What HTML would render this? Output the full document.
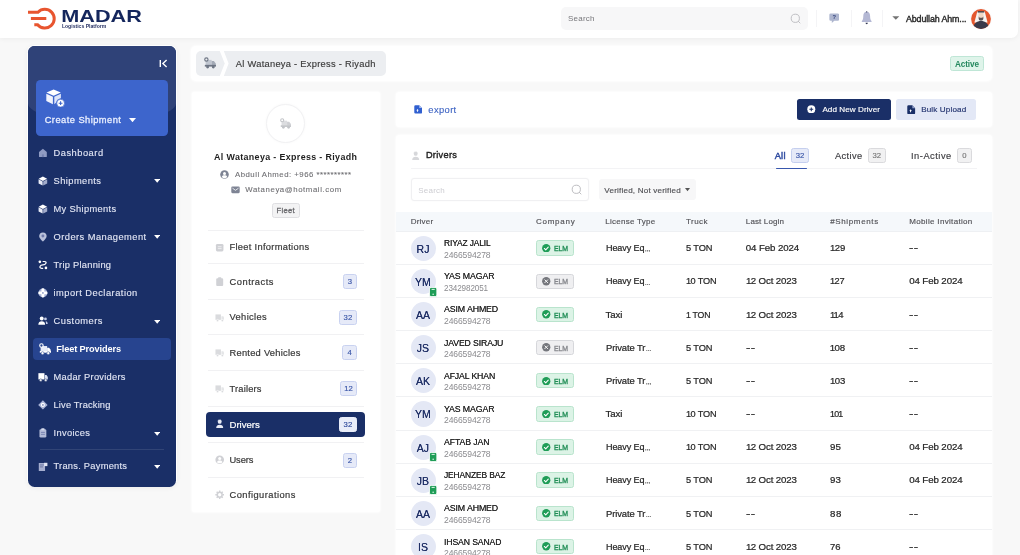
<!DOCTYPE html>
<html><head><meta charset="utf-8"><title>Madar - Fleet Providers</title>
<style>
html,body{margin:0;padding:0;}
body{width:1020px;height:555px;overflow:hidden;background:#f8f8f8;font-family:"Liberation Sans",sans-serif;position:relative;}
#root{position:absolute;left:0;top:0;width:1020px;height:555px;overflow:hidden;will-change:transform;}
.b{position:absolute;display:block;}
.t{position:absolute;white-space:nowrap;display:block;}
</style></head><body>
<div id="root">
<div class="b" style="left:0.00px;top:0.00px;width:1018.00px;height:37.60px;background:#fff;border-radius:0px;border-bottom-right-radius:7px;box-shadow:0 1px 5px rgba(0,0,0,0.05);"></div>
<svg class="b" style="left:26px;top:5px" width="120" height="28" viewBox="0 0 120 28">
<g fill="none" stroke="#e8552f" stroke-width="3" stroke-linecap="butt" stroke-linejoin="miter">
<path d="M2 7.2 H12 A9.4 9.4 0 1 1 11.6 19.7 H8.3"/>
<path d="M4.9 13.5 H20.3"/>
</g>
<text x="35.2" y="17" font-family="Liberation Sans, sans-serif" font-weight="700" font-size="16.4" fill="#14265c" textLength="80.7" lengthAdjust="spacingAndGlyphs">MADAR</text>
<text x="35.9" y="23" font-family="Liberation Sans, sans-serif" font-weight="700" font-size="4.6" fill="#2a3566" textLength="44.5" lengthAdjust="spacingAndGlyphs">Logistics Platform</text>
</svg>
<div class="b" style="left:560.50px;top:7.30px;width:247.50px;height:22.30px;background:#f7f7f8;border-radius:5px;"></div>
<span class="t" style="left:568.00px;top:12.90px;font-size:8.0px;line-height:11.2px;font-weight:400;color:#77777b;letter-spacing:0.230px;">Search</span>
<svg class="b" style="left:789px;top:12px" width="14" height="14" viewBox="0 0 14 14"><circle cx="6.3" cy="6.3" r="4.1" fill="none" stroke="#b9b9bd" stroke-width="0.9"/><path d="M9.4 9.4 L11 11" stroke="#b9b9bd" stroke-width="0.9" stroke-linecap="round"/></svg>
<div class="b" style="left:815.50px;top:10.00px;width:1.00px;height:17.00px;background:#f4f4f6;border-radius:0px;"></div>
<div class="b" style="left:851.30px;top:10.00px;width:1.00px;height:17.00px;background:#f4f4f6;border-radius:0px;"></div>
<div class="b" style="left:882.40px;top:10.00px;width:1.00px;height:17.00px;background:#f4f4f6;border-radius:0px;"></div>
<svg class="b" style="left:828.600px;top:13.200px" width="10.600" height="11" viewBox="0 0 12 13" preserveAspectRatio="none"><path d="M2 0.6 H10 A1.6 1.6 0 0 1 11.6 2.2 V7.6 A1.6 1.6 0 0 1 10 9.2 H6 L3.2 11.8 V9.2 H2 A1.6 1.6 0 0 1 0.4 7.6 V2.2 A1.6 1.6 0 0 1 2 0.6Z" fill="#aeb6cf"/><text x="6" y="7.6" font-family="Liberation Sans, sans-serif" font-size="6.5" font-weight="700" fill="#2a3a75" text-anchor="middle">?</text></svg>
<svg class="b" style="left:861.300px;top:11.300px" width="11.400" height="14.600" viewBox="0 0 13 15" preserveAspectRatio="none"><path d="M6.5 0.8 C9.3 0.8 10.4 3 10.4 5.4 C10.4 8 11 9.3 12 10.4 C12.3 10.8 12 11.4 11.5 11.4 H1.5 C1 11.4 0.7 10.8 1 10.4 C2 9.3 2.6 8 2.6 5.4 C2.6 3 3.7 0.8 6.5 0.8Z" fill="#b4b8d4"/><path d="M5.200 12.200 H7.800 A1.300 1.300 0 0 1 5.200 12.200Z" fill="#2e3350"/><rect x="5.700" y="0.300" width="1.600" height="1.200" rx="0.500" fill="#4a4f6e"/></svg>
<svg class="b" style="left:892.4px;top:16.300px" width="7.600" height="4" viewBox="0 0 7.600 4"><path d="M0.300 0.300 H7.300 L3.800 3.800Z" fill="#747474"/></svg>
<span class="t" style="left:905.70px;top:12.80px;font-size:9px;line-height:12.6px;font-weight:400;color:#2a2a2a;letter-spacing:-0.120px;transform:scaleX(0.9860);transform-origin:0 50%;-webkit-text-stroke:0.4px #2a2a2a;">Abdullah Ahm...</span>
<svg class="b" style="left:969.8px;top:8.1px" width="22" height="22" viewBox="-1 -1 22 22">
<defs><clipPath id="av"><circle cx="10" cy="10" r="9.9"/></clipPath></defs>
<circle cx="10" cy="10" r="10.9" fill="#fbfbfc"/>
<circle cx="10" cy="10" r="9.9" fill="#e4572e"/>
<g clip-path="url(#av)">
<path d="M6.300 2.600 H13.700 L16.600 13.500 H3.400Z" fill="#f6f3f1"/>
<path d="M1.500 20 C2.500 14.500 6 12 10 12 C14 12 17.500 14.500 18.500 20Z" fill="#3b3a4a"/>
<rect x="7.500" y="4" width="5" height="6" fill="#f1d6c3"/>
<path d="M7.700 7.600 L8.700 8.800 H11.300 L12.300 7.600 V9.800 C12.300 12.300 7.700 12.300 7.700 9.800Z" fill="#5a5356"/>
<rect x="6.700" y="2.300" width="6.600" height="1.300" rx="0.400" fill="#2b2a31"/>
</g></svg>
<div class="b" style="left:27.20px;top:45.20px;width:149.40px;height:442.20px;background:rgba(255,255,255,0.9);border-radius:7.5px;box-shadow:0 1px 5px rgba(0,0,0,0.05);"></div>
<div class="b" style="left:28.00px;top:46.00px;width:148.00px;height:440.60px;background:#1a2f67;border-radius:6.5px;overflow:hidden;"><div class="b" style="left:0.00px;top:-20.00px;width:148.00px;height:95.60px;background:#2f4278;border-radius:0px;border-bottom-left-radius:74px 18.5px;border-bottom-right-radius:74px 18.5px;"></div></div>
<svg class="b" style="left:159px;top:58.8px" width="9" height="9" viewBox="0 0 9 9"><path d="M1.300 0.900 V8.100" stroke="#fff" stroke-width="1.400" fill="none"/><path d="M7.600 1.100 L3.900 4.500 L7.600 7.900" fill="none" stroke="#fff" stroke-width="1.400" stroke-linejoin="miter"/></svg>
<div class="b" style="left:35.60px;top:80.00px;width:132.70px;height:56.00px;background:#3d65cc;border-radius:4.5px;"></div>
<svg class="b" style="left:45.5px;top:88.5px" width="20" height="19" viewBox="0 0 20 19">
<path d="M7.6 0.500 L14.800 3.600 L7.6 6.800 L0.500 3.600Z" fill="#fff"/>
<path d="M0.300 4.700 L6.900 7.700 V15.2 L0.300 12.100Z" fill="#f1f4fd"/>
<path d="M8.3 7.700 L14.900 4.700 V9.2 C12.500 9.400 10.600 11 10.200 13.500 L8.300 15.200Z" fill="#dde5fa"/>
<circle cx="14.600" cy="14.200" r="3.900" fill="#fff" stroke="#3d65cc" stroke-width="0.700"/>
<path d="M14.600 12.300 V16.100 M12.700 14.200 H16.500" stroke="#3d65cc" stroke-width="1.100"/>
</svg>
<span class="t" style="left:44.70px;top:113.79px;font-size:9.3px;line-height:13.02px;font-weight:400;color:#e9efff;letter-spacing:0.458px;-webkit-text-stroke:0.3px #e9efff;">Create Shipment</span>
<svg class="b" style="left:128.6px;top:117.6px" width="7" height="4.5" viewBox="0 0 7 4.5"><path d="M0 0 H7 L3.5 4.200Z" fill="#fff"/></svg>
<div class="b" style="left:33.30px;top:337.80px;width:137.30px;height:22.40px;background:#27448f;border-radius:4px;"></div>
<div class="b" style="left:40.00px;top:448.80px;width:124.00px;height:1.00px;background:rgba(255,255,255,0.10);border-radius:0px;"></div>
<svg class="b" style="left:38.40px;top:148.00px" width="9.8" height="9.8" viewBox="0 0 10 10"><path d="M1 4 L5 0.700 L9 4 V8.600 A0.700 0.700 0 0 1 8.300 9.300 H1.700 A0.700 0.700 0 0 1 1 8.600Z" fill="#8f9bc2"/><path d="M4 9.300 V6.500 H6 V9.300Z" fill="#7482b0"/></svg>
<span class="t" style="left:53.50px;top:146.84px;font-size:9.3px;line-height:13.02px;font-weight:400;color:#e3e7f5;letter-spacing:0.513px;-webkit-text-stroke:0.12px #e3e7f5;">Dashboard</span>
<svg class="b" style="left:38.40px;top:176.10px" width="9.8" height="9.8" viewBox="0 0 10 10"><path d="M5 0.400 L9.300 2.700 L5 5 L0.700 2.700Z" fill="#fff"/><path d="M0.600 3.300 L4.700 5.500 V9.800 L0.600 7.600Z" fill="#e9ecf7"/><path d="M5.300 5.500 L9.400 3.300 V7.600 L5.300 9.800Z" fill="#a2abca"/></svg>
<span class="t" style="left:53.50px;top:174.94px;font-size:9.3px;line-height:13.02px;font-weight:400;color:#e3e7f5;letter-spacing:0.445px;-webkit-text-stroke:0.12px #e3e7f5;">Shipments</span>
<svg class="b" style="left:153.60px;top:179.40px" width="6.4" height="4" viewBox="0 0 7 4.5"><path d="M0 0 H7 L3.5 4.200Z" fill="#fff"/></svg>
<svg class="b" style="left:38.40px;top:204.10px" width="9.8" height="9.8" viewBox="0 0 10 10"><path d="M5 0.400 L9.300 2.700 L5 5 L0.700 2.700Z" fill="#fff"/><path d="M0.600 3.300 L4.700 5.500 V9.800 L0.600 7.600Z" fill="#e9ecf7"/><path d="M5.300 5.500 L9.400 3.300 V7.600 L5.300 9.800Z" fill="#a2abca"/></svg>
<span class="t" style="left:53.50px;top:202.94px;font-size:9.3px;line-height:13.02px;font-weight:400;color:#e3e7f5;letter-spacing:0.334px;-webkit-text-stroke:0.12px #e3e7f5;">My Shipments</span>
<svg class="b" style="left:38.40px;top:232.10px" width="9.8" height="9.8" viewBox="0 0 10 10"><path d="M5 0.400 C7.400 0.400 8.800 2.100 8.800 4.100 C8.800 6.600 5 9.800 5 9.800 C5 9.800 1.200 6.600 1.200 4.100 C1.200 2.100 2.600 0.400 5 0.400Z" fill="#b9c1db"/><circle cx="5" cy="4" r="1.500" fill="#6f7bab"/></svg>
<span class="t" style="left:53.50px;top:230.94px;font-size:9.3px;line-height:13.02px;font-weight:400;color:#e3e7f5;letter-spacing:0.463px;-webkit-text-stroke:0.12px #e3e7f5;">Orders Management</span>
<svg class="b" style="left:153.60px;top:235.40px" width="6.4" height="4" viewBox="0 0 7 4.5"><path d="M0 0 H7 L3.5 4.200Z" fill="#fff"/></svg>
<svg class="b" style="left:38.40px;top:260.20px" width="9.8" height="9.8" viewBox="0 0 10 10"><circle cx="1.900" cy="1.900" r="1.350" fill="#fff"/><circle cx="8.100" cy="8.100" r="1.350" fill="#fff"/><path d="M5.200 1.500 H6.600 C9.800 1.700 8 5 5 5 C2 5 0.600 8.300 3.600 8.500 H4.800" stroke="#fff" stroke-width="1.200" fill="none" stroke-linecap="round"/></svg>
<span class="t" style="left:53.50px;top:259.04px;font-size:9.3px;line-height:13.02px;font-weight:400;color:#e3e7f5;letter-spacing:0.254px;-webkit-text-stroke:0.12px #e3e7f5;">Trip Planning</span>
<svg class="b" style="left:38.40px;top:288.20px" width="9.8" height="9.8" viewBox="0 0 10 10"><circle cx="5" cy="5" r="4.600" fill="#a9b3d6"/><rect x="3.500" y="0.300" width="3" height="9.400" rx="1.500" fill="#fff"/><rect x="0.300" y="3.500" width="9.400" height="3" rx="1.500" fill="#fff"/><circle cx="5" cy="5" r="0.900" fill="#8f9bc6"/></svg>
<span class="t" style="left:53.50px;top:287.04px;font-size:9.3px;line-height:13.02px;font-weight:400;color:#e3e7f5;letter-spacing:0.490px;-webkit-text-stroke:0.12px #e3e7f5;">import Declaration</span>
<svg class="b" style="left:38.40px;top:316.30px" width="9.8" height="9.8" viewBox="0 0 10 10"><circle cx="3.800" cy="2.600" r="2" fill="#fff"/><path d="M0.300 9 C0.300 6.400 1.800 5.300 3.800 5.300 C5.800 5.300 7.300 6.400 7.300 9Z" fill="#fff"/><circle cx="7.600" cy="3" r="1.400" fill="#c3cbe6"/><path d="M7.900 5.300 C9.200 5.500 9.900 6.500 9.900 8.200 H8.200Z" fill="#c3cbe6"/></svg>
<span class="t" style="left:53.50px;top:315.14px;font-size:9.3px;line-height:13.02px;font-weight:400;color:#e3e7f5;letter-spacing:0.505px;-webkit-text-stroke:0.12px #e3e7f5;">Customers</span>
<svg class="b" style="left:153.60px;top:319.60px" width="6.4" height="4" viewBox="0 0 7 4.5"><path d="M0 0 H7 L3.5 4.200Z" fill="#fff"/></svg>
<svg class="b" style="left:38.80px;top:342.80px" width="12.2" height="12.2" viewBox="0 0 12 12"><path d="M1.600 3 H8 V8.600 H1.600Z" fill="#e8ecf8"/><path d="M8 4.600 H9.900 L11.500 6.600 V8.600 H8Z" fill="#fff"/><path d="M0.800 7.800 H11.800 V9.600 H0.800Z" fill="#fff"/><circle cx="3.500" cy="10" r="1.450" fill="#fff" stroke="#27448f" stroke-width="0.500"/><circle cx="9.100" cy="10" r="1.450" fill="#fff" stroke="#27448f" stroke-width="0.500"/><circle cx="2.400" cy="2.500" r="1.700" fill="#27448f" stroke="#fff" stroke-width="1.100"/></svg>
<span class="t" style="left:56.20px;top:343.46px;font-size:9.2px;line-height:12.88px;font-weight:700;color:#fff;letter-spacing:-0.105px;">Fleet Providers</span>
<svg class="b" style="left:38.40px;top:372.20px" width="9.8" height="9.8" viewBox="0 0 10 10"><path d="M0.400 1.200 H6.600 V7.600 H0.400Z" fill="#fff"/><path d="M7 3 H8.700 L10 5 V7.600 H7Z" fill="#dbe1f3"/><circle cx="2.800" cy="8.300" r="1.300" fill="#fff" stroke="#1a2f67" stroke-width="0.500"/><circle cx="7.900" cy="8.300" r="1.300" fill="#fff" stroke="#1a2f67" stroke-width="0.500"/></svg>
<span class="t" style="left:53.50px;top:371.04px;font-size:9.3px;line-height:13.02px;font-weight:400;color:#e3e7f5;letter-spacing:0.269px;-webkit-text-stroke:0.12px #e3e7f5;">Madar Providers</span>
<svg class="b" style="left:38.40px;top:400.30px" width="9.8" height="9.8" viewBox="0 0 10 10"><path d="M5 0.200 L9.800 5 L5 9.800 L0.200 5Z" fill="#a9b3d6"/><circle cx="5" cy="5" r="2.100" fill="#fff"/><circle cx="5" cy="5" r="0.900" fill="#7e8bba"/></svg>
<span class="t" style="left:53.50px;top:399.14px;font-size:9.3px;line-height:13.02px;font-weight:400;color:#e3e7f5;letter-spacing:0.176px;-webkit-text-stroke:0.12px #e3e7f5;">Live Tracking</span>
<svg class="b" style="left:38.40px;top:428.40px" width="9.8" height="9.8" viewBox="0 0 10 10"><rect x="1.500" y="1.200" width="7" height="8.500" rx="1.400" fill="#b3bbd8"/><rect x="3.300" y="0.300" width="3.400" height="2" rx="0.600" fill="#d5daeb"/><path d="M3 4.500 H7 M3 6.500 H7" stroke="#6d79ab" stroke-width="0.800"/></svg>
<span class="t" style="left:53.50px;top:427.24px;font-size:9.3px;line-height:13.02px;font-weight:400;color:#e3e7f5;letter-spacing:0.326px;-webkit-text-stroke:0.12px #e3e7f5;">Invoices</span>
<svg class="b" style="left:153.60px;top:431.70px" width="6.4" height="4" viewBox="0 0 7 4.5"><path d="M0 0 H7 L3.5 4.200Z" fill="#fff"/></svg>
<svg class="b" style="left:38.40px;top:461.50px" width="9.8" height="9.8" viewBox="0 0 10 10"><path d="M0.800 1 H7.200 V9.200 H0.800Z" fill="#a6afd0"/><path d="M2 3 H6 M2 5 H5" stroke="#5c6899" stroke-width="0.800"/><path d="M6.200 0.800 H9.600 V4.200 H6.200Z" fill="#dfe3f2"/></svg>
<span class="t" style="left:53.50px;top:460.34px;font-size:9.3px;line-height:13.02px;font-weight:400;color:#e3e7f5;letter-spacing:0.254px;-webkit-text-stroke:0.12px #e3e7f5;">Trans. Payments</span>
<svg class="b" style="left:153.60px;top:464.80px" width="6.4" height="4" viewBox="0 0 7 4.5"><path d="M0 0 H7 L3.5 4.200Z" fill="#fff"/></svg>
<div class="b" style="left:190.50px;top:45.80px;width:801.50px;height:35.20px;background:#fff;border-radius:5px;box-shadow:0 0 2px 1px rgba(255,255,255,0.7),0 0 8px rgba(0,0,0,0.012);"></div>
<svg class="b" style="left:196px;top:51px" width="192" height="25" viewBox="0 0 192 25">
<path d="M5 0 H23.800 L28.700 12.500 L23.800 25 H5 A5 5 0 0 1 0 20 V5 A5 5 0 0 1 5 0Z" fill="#eceef1"/>
<path d="M27.800 0 H185 A5 5 0 0 1 190 5 V20 A5 5 0 0 1 185 25 H27.800 L32.600 12.500Z" fill="#eceef1"/>
</svg>
<svg class="b" style="left:203.80px;top:57.10px" width="12.4" height="12.4" viewBox="0 0 12 12">
<path d="M1.600 2.800 H7.400 V8 H1.600Z" fill="#c0c6d0"/><path d="M7.400 3.800 H9.600 L11.400 6.200 V8 H7.400Z" fill="#a4abb7"/>
<path d="M0.800 7.600 H11.600 V9.300 H0.800Z" fill="#6e7684"/>
<circle cx="3.500" cy="9.700" r="1.400" fill="#6e7684"/><circle cx="9" cy="9.700" r="1.400" fill="#6e7684"/>
<circle cx="2.300" cy="2.400" r="1.600" fill="#eceef1" stroke="#6e7684" stroke-width="1.100"/></svg>
<span class="t" style="left:235.80px;top:58.04px;font-size:9.3px;line-height:13.02px;font-weight:400;color:#3a3a3a;letter-spacing:0.281px;-webkit-text-stroke:0.15px #3a3a3a;">Al Wataneya - Express - Riyadh</span>
<div class="b" style="left:950.30px;top:56.20px;width:33.80px;height:14.60px;background:#dff4ea;border-radius:2.5px;box-sizing:border-box;border:1px solid #bfe6d6;"></div>
<span class="t" style="left:955.30px;top:58.14px;font-size:8.8px;line-height:12.32px;font-weight:700;color:#24885e;letter-spacing:-0.120px;transform:scaleX(0.9297);transform-origin:0 50%;">Active</span>
<div class="b" style="left:192.00px;top:92.00px;width:188.00px;height:420.40px;background:#fff;border-radius:2px;box-shadow:0 0 2px 1px rgba(255,255,255,0.7),0 0 8px rgba(0,0,0,0.012);"></div>
<div class="b" style="left:265.90px;top:104.40px;width:39.00px;height:39.00px;background:#fff;border-radius:20px;box-sizing:border-box;border:1px solid #f1f1f3;box-shadow:0 0 3px rgba(0,0,0,0.035);"></div>
<svg class="b" style="left:279.65px;top:117.55px" width="11.5" height="11.5" viewBox="0 0 12 12">
<path d="M1.600 2.800 H7.400 V8 H1.600Z" fill="#dcdde0"/><path d="M7.400 3.800 H9.600 L11.400 6.200 V8 H7.400Z" fill="#cfd0d4"/>
<path d="M0.800 7.600 H11.600 V9.300 H0.800Z" fill="#c2c4c8"/>
<circle cx="3.500" cy="9.700" r="1.400" fill="#c2c4c8"/><circle cx="9" cy="9.700" r="1.400" fill="#c2c4c8"/>
<circle cx="2.300" cy="2.400" r="1.600" fill="#fff" stroke="#c2c4c8" stroke-width="1.100"/></svg>
<span class="t" style="left:214.10px;top:151.17px;font-size:8.9px;line-height:12.46px;font-weight:700;color:#1e1e1e;letter-spacing:0.361px;">Al Wataneya - Express - Riyadh</span>
<svg class="b" style="left:220px;top:169.9px" width="9" height="9" viewBox="0 0 9 9"><circle cx="4.500" cy="4.500" r="4.300" fill="#7e8494"/><circle cx="4.500" cy="3.400" r="1.500" fill="#fff"/><path d="M1.800 7 C2.300 5.600 3.300 5.300 4.500 5.300 C5.700 5.300 6.700 5.600 7.200 7 C6.300 7.900 5.400 8.200 4.500 8.200 C3.600 8.200 2.700 7.900 1.800 7Z" fill="#fff"/></svg>
<span class="t" style="left:235.00px;top:169.74px;font-size:7.8px;line-height:10.92px;font-weight:400;color:#6f6f73;letter-spacing:0.487px;-webkit-text-stroke:0.1px #6f6f73;">Abdull Ahmed: +966 **********</span>
<svg class="b" style="left:230.500px;top:185.900px" width="9" height="8" viewBox="0 0 9 8"><rect x="0.300" y="0.600" width="8.400" height="6.600" rx="1.100" fill="#7e8494"/><path d="M1.500 2.200 L4.500 4.300 L7.500 2.200" stroke="#fff" stroke-width="0.800" fill="none"/></svg>
<span class="t" style="left:245.30px;top:185.44px;font-size:7.8px;line-height:10.92px;font-weight:400;color:#6f6f73;letter-spacing:0.584px;-webkit-text-stroke:0.1px #6f6f73;">Wataneya@hotmail.com</span>
<div class="b" style="left:271.50px;top:202.70px;width:28.20px;height:15.20px;background:#f3f3f4;border-radius:2.5px;box-sizing:border-box;border:1px solid #dfdfe2;"></div>
<span class="t" style="left:276.60px;top:205.58px;font-size:7.6px;line-height:10.64px;font-weight:400;color:#6a6a6e;letter-spacing:0.276px;-webkit-text-stroke:0.3px #6a6a6e;">Fleet</span>
<div class="b" style="left:207.70px;top:229.90px;width:156.20px;height:1.00px;background:#f1f1f3;border-radius:0px;"></div>
<div class="b" style="left:207.70px;top:262.60px;width:156.20px;height:1.00px;background:#f1f1f3;border-radius:0px;"></div>
<div class="b" style="left:207.70px;top:298.60px;width:156.20px;height:1.00px;background:#f1f1f3;border-radius:0px;"></div>
<div class="b" style="left:207.70px;top:334.20px;width:156.20px;height:1.00px;background:#f1f1f3;border-radius:0px;"></div>
<div class="b" style="left:207.70px;top:369.90px;width:156.20px;height:1.00px;background:#f1f1f3;border-radius:0px;"></div>
<div class="b" style="left:207.70px;top:405.70px;width:156.20px;height:1.00px;background:#f1f1f3;border-radius:0px;"></div>
<div class="b" style="left:207.70px;top:441.60px;width:156.20px;height:1.00px;background:#f1f1f3;border-radius:0px;"></div>
<div class="b" style="left:207.70px;top:477.30px;width:156.20px;height:1.00px;background:#f1f1f3;border-radius:0px;"></div>
<div class="b" style="left:206.40px;top:411.50px;width:158.30px;height:25.60px;background:#1a2f67;border-radius:4px;"></div>
<svg class="b" style="left:215.00px;top:242.50px" width="9.4" height="9.4" viewBox="0 0 10 10"><rect x="1" y="1" width="8" height="8" rx="1.500" fill="#d0d1d5"/><path d="M3 4 H7 M3 6 H7" stroke="#fff" stroke-width="0.700"/></svg>
<span class="t" style="left:229.50px;top:241.24px;font-size:9.3px;line-height:13.02px;font-weight:400;color:#383838;letter-spacing:0.304px;-webkit-text-stroke:0.2px #383838;">Fleet Informations</span>
<svg class="b" style="left:215.00px;top:276.90px" width="9.4" height="9.4" viewBox="0 0 10 10"><rect x="1.300" y="1.400" width="7.400" height="8.200" rx="1.200" fill="#d0d1d5"/><rect x="3.300" y="0.300" width="3.400" height="2" rx="0.600" fill="#d0d1d5"/></svg>
<span class="t" style="left:229.50px;top:275.64px;font-size:9.3px;line-height:13.02px;font-weight:400;color:#383838;letter-spacing:0.525px;-webkit-text-stroke:0.2px #383838;">Contracts</span>
<div class="b" style="left:342.80px;top:274.15px;width:14.10px;height:14.90px;background:#e6eaf8;border-radius:2.5px;box-sizing:border-box;border:1px solid #c9d2f0;"></div><span class="t" style="left:347.71px;top:277.01px;font-size:7.7px;line-height:10.78px;font-weight:400;color:#3a56a8;-webkit-text-stroke:0.15px #3a56a8;">3</span>
<svg class="b" style="left:215.00px;top:312.50px" width="9.4" height="9.4" viewBox="0 0 10 10"><path d="M0.500 1.500 H6.300 V7.300 H0.500Z" fill="#dadbde"/><path d="M6.800 3.400 H8.800 L10 5.200 V7.300 H6.800Z" fill="#dadbde" opacity="0.700"/><circle cx="2.700" cy="8" r="1.200" fill="#dadbde" stroke="#fff" stroke-width="0.500"/><circle cx="7.800" cy="8" r="1.200" fill="#dadbde" stroke="#fff" stroke-width="0.500"/></svg>
<span class="t" style="left:229.50px;top:311.24px;font-size:9.3px;line-height:13.02px;font-weight:400;color:#383838;letter-spacing:0.366px;-webkit-text-stroke:0.2px #383838;">Vehicles</span>
<div class="b" style="left:338.90px;top:309.75px;width:18.00px;height:14.90px;background:#e6eaf8;border-radius:2.5px;box-sizing:border-box;border:1px solid #c9d2f0;"></div><span class="t" style="left:343.62px;top:312.61px;font-size:7.7px;line-height:10.78px;font-weight:400;color:#3a56a8;-webkit-text-stroke:0.15px #3a56a8;">32</span>
<svg class="b" style="left:215.00px;top:348.20px" width="9.4" height="9.4" viewBox="0 0 10 10"><path d="M0.500 1.500 H6.300 V7.300 H0.500Z" fill="#dadbde"/><path d="M6.800 3.400 H8.800 L10 5.200 V7.300 H6.800Z" fill="#dadbde" opacity="0.700"/><circle cx="2.700" cy="8" r="1.200" fill="#dadbde" stroke="#fff" stroke-width="0.500"/><circle cx="7.800" cy="8" r="1.200" fill="#dadbde" stroke="#fff" stroke-width="0.500"/></svg>
<span class="t" style="left:229.50px;top:346.94px;font-size:9.3px;line-height:13.02px;font-weight:400;color:#383838;letter-spacing:0.263px;-webkit-text-stroke:0.2px #383838;">Rented Vehicles</span>
<div class="b" style="left:342.20px;top:345.45px;width:14.70px;height:14.90px;background:#e6eaf8;border-radius:2.5px;box-sizing:border-box;border:1px solid #c9d2f0;"></div><span class="t" style="left:347.41px;top:348.31px;font-size:7.7px;line-height:10.78px;font-weight:400;color:#3a56a8;-webkit-text-stroke:0.15px #3a56a8;">4</span>
<svg class="b" style="left:215.00px;top:383.80px" width="9.4" height="9.4" viewBox="0 0 10 10"><path d="M0.500 1.500 H6.300 V7.300 H0.500Z" fill="#dadbde"/><path d="M6.800 3.400 H8.800 L10 5.200 V7.300 H6.800Z" fill="#dadbde" opacity="0.700"/><circle cx="2.700" cy="8" r="1.200" fill="#dadbde" stroke="#fff" stroke-width="0.500"/><circle cx="7.800" cy="8" r="1.200" fill="#dadbde" stroke="#fff" stroke-width="0.500"/></svg>
<span class="t" style="left:229.50px;top:382.54px;font-size:9.3px;line-height:13.02px;font-weight:400;color:#383838;letter-spacing:0.192px;-webkit-text-stroke:0.2px #383838;">Trailers</span>
<div class="b" style="left:340.20px;top:381.05px;width:16.70px;height:14.90px;background:#e6eaf8;border-radius:2.5px;box-sizing:border-box;border:1px solid #c9d2f0;"></div><span class="t" style="left:344.27px;top:383.91px;font-size:7.7px;line-height:10.78px;font-weight:400;color:#3a56a8;-webkit-text-stroke:0.15px #3a56a8;">12</span>
<svg class="b" style="left:214.70px;top:418.90px" width="9.4" height="9.4" viewBox="0 0 10 10"><circle cx="5" cy="3.100" r="2" fill="#e9ecf6"/><path d="M1.300 9.500 C1.300 7.200 2.800 6.100 5 6.100 C7.200 6.100 8.700 7.200 8.700 9.500Z" fill="#e9ecf6"/><path d="M2.800 2.200 H7.200" stroke="#e9ecf6" stroke-width="1"/><path d="M3.600 0.700 H6.400 V2 H3.600Z" fill="#e9ecf6"/></svg>
<span class="t" style="left:229.50px;top:418.03px;font-size:9.6px;line-height:13.44px;font-weight:400;color:#fff;letter-spacing:-0.033px;-webkit-text-stroke:0.2px #fff;">Drivers</span>
<div class="b" style="left:338.90px;top:417.05px;width:18.00px;height:14.90px;background:#e9edf9;border-radius:2.5px;box-sizing:border-box;border:1px solid #e9edf9;"></div><span class="t" style="left:343.62px;top:419.91px;font-size:7.7px;line-height:10.78px;font-weight:400;color:#2f4a9c;-webkit-text-stroke:0.15px #2f4a9c;">32</span>
<svg class="b" style="left:215.00px;top:455.40px" width="9.4" height="9.4" viewBox="0 0 10 10"><circle cx="5" cy="5" r="4.600" fill="#d0d1d5"/><circle cx="5" cy="3.800" r="1.600" fill="#fff"/><path d="M2.100 7.700 C2.700 6.200 3.800 5.900 5 5.900 C6.200 5.900 7.300 6.200 7.900 7.700 C7 8.600 6 8.900 5 8.900 C4 8.900 3 8.600 2.100 7.700Z" fill="#fff"/></svg>
<span class="t" style="left:229.50px;top:454.14px;font-size:9.3px;line-height:13.02px;font-weight:400;color:#383838;letter-spacing:-0.097px;-webkit-text-stroke:0.2px #383838;">Users</span>
<div class="b" style="left:343.00px;top:452.65px;width:13.90px;height:14.90px;background:#e6eaf8;border-radius:2.5px;box-sizing:border-box;border:1px solid #c9d2f0;"></div><span class="t" style="left:347.81px;top:455.51px;font-size:7.7px;line-height:10.78px;font-weight:400;color:#3a56a8;-webkit-text-stroke:0.15px #3a56a8;">2</span>
<svg class="b" style="left:215.00px;top:489.80px" width="9.4" height="9.4" viewBox="0 0 10 10"><circle cx="5" cy="5" r="2.600" fill="none" stroke="#d0d1d5" stroke-width="1.600"/><g stroke="#d0d1d5" stroke-width="1.500"><path d="M5 0.400 V2 M5 8 V9.600 M0.400 5 H2 M8 5 H9.600 M1.750 1.750 L2.900 2.900 M7.100 7.100 L8.250 8.250 M1.750 8.250 L2.900 7.100 M7.100 2.900 L8.250 1.750"/></g></svg>
<span class="t" style="left:229.50px;top:488.54px;font-size:9.3px;line-height:13.02px;font-weight:400;color:#383838;letter-spacing:0.456px;-webkit-text-stroke:0.2px #383838;">Configurations</span>
<div class="b" style="left:396.00px;top:92.00px;width:596.00px;height:34.80px;background:#fff;border-radius:3.5px;box-shadow:0 0 2px 1px rgba(255,255,255,0.7),0 0 8px rgba(0,0,0,0.012);"></div>
<svg class="b" style="left:414px;top:105px" width="8.400" height="8.800" viewBox="0 0 9 10" preserveAspectRatio="none"><path d="M1.600 0.300 H5.600 L8.600 3.300 V8.400 A1.300 1.300 0 0 1 7.300 9.700 H1.600 A1.300 1.300 0 0 1 0.300 8.400 V1.600 A1.300 1.300 0 0 1 1.600 0.300Z" fill="#3160d0"/><path d="M5.600 0.300 V3.300 H8.600Z" fill="#a9bdf0"/><path d="M2.500 6.200 L3.800 4.600 L5.100 6.200 H4.300 V7.600 H3.300 V6.200Z" fill="#fff"/></svg>
<span class="t" style="left:428.30px;top:102.62px;font-size:9.4px;line-height:13.16px;font-weight:400;color:#3d63c3;letter-spacing:0.375px;-webkit-text-stroke:0.12px #3d63c3;">export</span>
<div class="b" style="left:796.60px;top:99.20px;width:94.20px;height:20.40px;background:#1a2f67;border-radius:2.5px;"></div>
<svg class="b" style="left:807.300px;top:104.600px" width="8.600" height="8.600" viewBox="0 0 9 9"><circle cx="4.500" cy="4.500" r="4.200" fill="#fff"/><path d="M4.500 2.500 V6.500 M2.500 4.500 H6.500" stroke="#1a2f67" stroke-width="1.100"/></svg>
<span class="t" style="left:822.40px;top:103.93px;font-size:8.1px;line-height:11.34px;font-weight:400;color:#fff;letter-spacing:0.068px;-webkit-text-stroke:0.15px #fff;">Add New Driver</span>
<div class="b" style="left:895.70px;top:99.20px;width:80.70px;height:20.40px;background:#e3e8f6;border-radius:2.5px;"></div>
<svg class="b" style="left:907px;top:104.600px" width="8.500" height="9.500" viewBox="0 0 9 10"><path d="M1.600 0.300 H5.600 L8.600 3.300 V8.400 A1.300 1.300 0 0 1 7.300 9.700 H1.600 A1.300 1.300 0 0 1 0.300 8.400 V1.600 A1.300 1.300 0 0 1 1.600 0.300Z" fill="#1a2f67"/><path d="M5.600 0.300 V3.300 H8.600Z" fill="#8d9bc8"/><path d="M2.500 6.200 L3.800 4.600 L5.100 6.200 H4.300 V7.600 H3.300 V6.200Z" fill="#fff"/></svg>
<span class="t" style="left:921.20px;top:103.93px;font-size:8.1px;line-height:11.34px;font-weight:400;color:#22336f;letter-spacing:0.132px;-webkit-text-stroke:0.15px #22336f;">Bulk Upload</span>
<div class="b" style="left:396.00px;top:135.20px;width:596.00px;height:430.00px;background:#fff;border-radius:3.5px;box-shadow:0 0 2px 1px rgba(255,255,255,0.7),0 0 8px rgba(0,0,0,0.012);"></div>
<svg class="b" style="left:410.90px;top:150.60px" width="9.4" height="9.4" viewBox="0 0 10 10"><circle cx="5" cy="3.100" r="2" fill="#d6d7da"/><path d="M1.300 9.500 C1.300 7.200 2.800 6.100 5 6.100 C7.200 6.100 8.700 7.200 8.700 9.500Z" fill="#d6d7da"/><path d="M2.800 2.200 H7.200" stroke="#d6d7da" stroke-width="1"/><path d="M3.600 0.700 H6.400 V2 H3.600Z" fill="#d6d7da"/></svg>
<span class="t" style="left:425.90px;top:149.26px;font-size:9.2px;line-height:12.88px;font-weight:400;color:#1f1f1f;letter-spacing:0.311px;-webkit-text-stroke:0.4px #1f1f1f;">Drivers</span>
<div class="b" style="left:411.00px;top:168.10px;width:566.00px;height:1.00px;background:#f3f3f5;border-radius:0px;"></div>
<span class="t" style="left:774.70px;top:149.89px;font-size:9.3px;line-height:13.02px;font-weight:400;color:#2d4aa0;letter-spacing:0.232px;-webkit-text-stroke:0.45px #2d4aa0;">All</span>
<div class="b" style="left:791.00px;top:148.10px;width:17.90px;height:14.80px;background:#e6eaf8;border-radius:2.5px;box-sizing:border-box;border:1px solid #c5cfee;"></div><span class="t" style="left:795.67px;top:150.91px;font-size:7.7px;line-height:10.78px;font-weight:400;color:#3a56a8;-webkit-text-stroke:0.15px #3a56a8;">32</span>
<div class="b" style="left:776.00px;top:167.70px;width:31.30px;height:1.80px;background:#3857ad;border-radius:1px;"></div>
<span class="t" style="left:834.90px;top:149.89px;font-size:9.3px;line-height:13.02px;font-weight:400;color:#3c3c40;letter-spacing:0.395px;-webkit-text-stroke:0.15px #3c3c40;">Active</span>
<div class="b" style="left:867.80px;top:148.10px;width:17.90px;height:14.80px;background:#f1f1f2;border-radius:2.5px;box-sizing:border-box;border:1px solid #dadadd;"></div><span class="t" style="left:872.47px;top:150.91px;font-size:7.7px;line-height:10.78px;font-weight:400;color:#777;-webkit-text-stroke:0.15px #777;">32</span>
<span class="t" style="left:911.00px;top:149.89px;font-size:9.3px;line-height:13.02px;font-weight:400;color:#3c3c40;letter-spacing:0.515px;-webkit-text-stroke:0.15px #3c3c40;">In-Active</span>
<div class="b" style="left:957.00px;top:148.10px;width:14.70px;height:14.80px;background:#f1f1f2;border-radius:2.5px;box-sizing:border-box;border:1px solid #dadadd;"></div><span class="t" style="left:962.21px;top:150.91px;font-size:7.7px;line-height:10.78px;font-weight:400;color:#777;-webkit-text-stroke:0.15px #777;">0</span>
<div class="b" style="left:410.70px;top:178.30px;width:178.30px;height:22.50px;background:#fff;border-radius:3px;box-sizing:border-box;border:1px solid #f0f0f2;box-shadow:0 0 2px rgba(0,0,0,0.03);"></div>
<span class="t" style="left:418.30px;top:185.10px;font-size:8.0px;line-height:11.2px;font-weight:400;color:#cdcdd2;letter-spacing:0.230px;">Search</span>
<svg class="b" style="left:570px;top:183px" width="14" height="14" viewBox="0 0 14 14"><circle cx="6.300" cy="6.300" r="4.100" fill="none" stroke="#b5b5ba" stroke-width="0.900"/><path d="M9.400 9.400 L11 11" stroke="#b5b5ba" stroke-width="0.900" stroke-linecap="round"/></svg>
<div class="b" style="left:599.00px;top:179.30px;width:96.50px;height:20.80px;background:#f7f7f8;border-radius:3px;"></div>
<span class="t" style="left:604.30px;top:184.63px;font-size:8.1px;line-height:11.34px;font-weight:400;color:#505055;letter-spacing:0.191px;-webkit-text-stroke:0.15px #505055;">Verified, Not verified</span>
<svg class="b" style="left:685px;top:188.300px" width="5" height="3.500" viewBox="0 0 5 3.500"><path d="M0 0 H5 L2.500 3.200Z" fill="#555"/></svg>
<div class="b" style="left:396.00px;top:212.00px;width:596.00px;height:19.50px;background:#f5f8fb;border-radius:0px;"></div>
<div class="b" style="left:396.00px;top:231.20px;width:596.00px;height:1.00px;background:#eef0f3;border-radius:0px;"></div>
<span class="t" style="left:410.70px;top:216.40px;font-size:8.0px;line-height:11.2px;font-weight:400;color:#525257;letter-spacing:0.233px;-webkit-text-stroke:0.15px #525257;">Driver</span>
<span class="t" style="left:535.90px;top:216.40px;font-size:8.0px;line-height:11.2px;font-weight:400;color:#525257;letter-spacing:0.760px;-webkit-text-stroke:0.15px #525257;">Company</span>
<span class="t" style="left:605.20px;top:216.40px;font-size:8.0px;line-height:11.2px;font-weight:400;color:#525257;letter-spacing:0.273px;-webkit-text-stroke:0.15px #525257;">License Type</span>
<span class="t" style="left:686.00px;top:216.40px;font-size:8.0px;line-height:11.2px;font-weight:400;color:#525257;letter-spacing:0.449px;-webkit-text-stroke:0.15px #525257;">Truck</span>
<span class="t" style="left:745.80px;top:216.40px;font-size:8.0px;line-height:11.2px;font-weight:400;color:#525257;letter-spacing:0.142px;-webkit-text-stroke:0.15px #525257;">Last Login</span>
<span class="t" style="left:830.20px;top:216.40px;font-size:8.0px;line-height:11.2px;font-weight:400;color:#525257;letter-spacing:0.639px;-webkit-text-stroke:0.15px #525257;">#Shipments</span>
<span class="t" style="left:909.30px;top:216.40px;font-size:8.0px;line-height:11.2px;font-weight:400;color:#525257;letter-spacing:0.324px;-webkit-text-stroke:0.15px #525257;">Mobile Invitation</span>
<div class="b" style="left:410.70px;top:235.67px;width:25.20px;height:25.20px;background:#e4e8f5;border-radius:13px;"></div>
<span class="t" style="left:416.58px;top:241.62px;font-size:10.5px;line-height:14.7px;font-weight:400;color:#1f2f66;text-shadow:0 0 0.15px #1f2f66;">RJ</span>
<span class="t" style="left:443.80px;top:237.17px;font-size:9.0px;line-height:12.6px;font-weight:400;color:#2b2b2b;letter-spacing:-0.120px;transform:scaleX(0.9292);transform-origin:0 50%;text-shadow:0 0 0.25px #2b2b2b;">RIYAZ JALIL</span>
<span class="t" style="left:443.80px;top:248.61px;font-size:8.8px;line-height:12.32px;font-weight:400;color:#8b8b8f;letter-spacing:-0.120px;transform:scaleX(0.9736);transform-origin:0 50%;">2466594278</span>
<div class="b" style="left:536.30px;top:240.37px;width:37.60px;height:15.50px;background:#dcf3e6;border-radius:2.5px;box-sizing:border-box;border:1px solid #b9e4cd;"></div>
<svg class="b" style="left:542.200px;top:243.92px" width="8.500" height="8.500" viewBox="0 0 8 8"><circle cx="4" cy="4" r="3.900" fill="#1f9d57"/><path d="M2.200 4.200 L3.500 5.500 L5.900 2.900" stroke="#fff" stroke-width="1" fill="none" stroke-linecap="round" stroke-linejoin="round"/></svg>
<span class="t" style="left:553.80px;top:243.24px;font-size:7.9px;line-height:11.06px;font-weight:400;color:#1f8d55;letter-spacing:-0.120px;transform:scaleX(0.8810);transform-origin:0 50%;-webkit-text-stroke:0.35px #1f8d55;">ELM</span>
<span class="t" style="left:605.50px;top:241.33px;font-size:9.7px;line-height:13.58px;font-weight:400;color:#262626;letter-spacing:-0.120px;transform:scaleX(0.9341);transform-origin:0 50%;-webkit-text-stroke:0.22px #262626;">Heavy Eq</span>
<svg class="b" style="left:644.50px;top:250.37px" width="5.4" height="1.6" viewBox="0 0 5.4 1.6"><circle cx="0.8" cy="0.8" r="0.62" fill="#333"/><circle cx="2.6" cy="0.8" r="0.62" fill="#333"/><circle cx="4.4" cy="0.8" r="0.62" fill="#333"/></svg>
<span class="t" style="left:686.00px;top:241.33px;font-size:9.7px;line-height:13.58px;font-weight:400;color:#262626;letter-spacing:-0.120px;transform:scaleX(0.9555);transform-origin:0 50%;-webkit-text-stroke:0.22px #262626;">5 TON</span>
<span class="t" style="left:745.80px;top:241.33px;font-size:9.7px;line-height:13.58px;font-weight:400;color:#262626;letter-spacing:-0.097px;-webkit-text-stroke:0.22px #262626;">04 Feb 2024</span>
<span class="t" style="left:830.70px;top:241.33px;font-size:9.7px;line-height:13.58px;font-weight:400;color:#262626;letter-spacing:-0.120px;transform:scaleX(0.9900);transform-origin:0 50%;-webkit-text-stroke:0.22px #262626;"><i style="font-style:normal;margin-left:-1.04px;margin-right:-0.56px">1</i>29</span>
<span class="t" style="left:909.00px;top:241.33px;font-size:9.7px;line-height:13.58px;font-weight:400;color:#262626;-webkit-text-stroke:0.22px #262626;letter-spacing:0.2px;transform:scaleX(1.35);transform-origin:0 50%;">--</span>
<div class="b" style="left:396.00px;top:263.85px;width:596.00px;height:1.00px;background:#f0f1f3;border-radius:0px;"></div>
<div class="b" style="left:410.70px;top:268.82px;width:25.20px;height:25.20px;background:#e4e8f5;border-radius:13px;"></div>
<span class="t" style="left:415.12px;top:274.77px;font-size:10.5px;line-height:14.7px;font-weight:400;color:#1f2f66;text-shadow:0 0 0.15px #1f2f66;">YM</span>
<svg class="b" style="left:429.300px;top:286.52px" width="8.300" height="10" viewBox="0 0 7.400 9.600" preserveAspectRatio="none"><rect x="0.400" y="0.400" width="6.600" height="8.800" rx="1.500" fill="#1f9d57" stroke="#fff" stroke-width="0.800"/><rect x="2.300" y="1.800" width="2.800" height="1" fill="#d9f3e4"/><circle cx="3.700" cy="7" r="0.700" fill="#d9f3e4"/></svg>
<span class="t" style="left:443.80px;top:270.32px;font-size:9.0px;line-height:12.6px;font-weight:400;color:#2b2b2b;letter-spacing:-0.120px;transform:scaleX(0.9733);transform-origin:0 50%;text-shadow:0 0 0.25px #2b2b2b;">YAS MAGAR</span>
<span class="t" style="left:443.80px;top:281.76px;font-size:8.8px;line-height:12.32px;font-weight:400;color:#8b8b8f;letter-spacing:-0.120px;transform:scaleX(0.9214);transform-origin:0 50%;">2342982051</span>
<div class="b" style="left:536.30px;top:273.52px;width:37.60px;height:15.50px;background:#efeff1;border-radius:2.5px;box-sizing:border-box;border:1px solid #d6d7db;"></div>
<svg class="b" style="left:542.200px;top:277.07px" width="8.500" height="8.500" viewBox="0 0 8 8"><circle cx="4" cy="4" r="3.900" fill="#75777d"/><path d="M2.700 2.700 L5.300 5.300 M5.300 2.700 L2.700 5.300" stroke="#fff" stroke-width="0.900" fill="none" stroke-linecap="round"/></svg>
<span class="t" style="left:553.80px;top:276.39px;font-size:7.9px;line-height:11.06px;font-weight:400;color:#85878c;letter-spacing:-0.120px;transform:scaleX(0.8810);transform-origin:0 50%;-webkit-text-stroke:0.35px #85878c;">ELM</span>
<span class="t" style="left:605.50px;top:274.48px;font-size:9.7px;line-height:13.58px;font-weight:400;color:#262626;letter-spacing:-0.120px;transform:scaleX(0.9341);transform-origin:0 50%;-webkit-text-stroke:0.22px #262626;">Heavy Eq</span>
<svg class="b" style="left:644.50px;top:283.52px" width="5.4" height="1.6" viewBox="0 0 5.4 1.6"><circle cx="0.8" cy="0.8" r="0.62" fill="#333"/><circle cx="2.6" cy="0.8" r="0.62" fill="#333"/><circle cx="4.4" cy="0.8" r="0.62" fill="#333"/></svg>
<span class="t" style="left:686.70px;top:274.48px;font-size:9.7px;line-height:13.58px;font-weight:400;color:#262626;letter-spacing:-0.120px;transform:scaleX(0.9456);transform-origin:0 50%;-webkit-text-stroke:0.22px #262626;"><i style="font-style:normal;margin-left:-1.04px;margin-right:-0.56px">1</i>0 TON</span>
<span class="t" style="left:746.50px;top:274.48px;font-size:9.7px;line-height:13.58px;font-weight:400;color:#262626;letter-spacing:-0.120px;transform:scaleX(0.9990);transform-origin:0 50%;-webkit-text-stroke:0.22px #262626;"><i style="font-style:normal;margin-left:-1.04px;margin-right:-0.56px">1</i>2 Oct 2023</span>
<span class="t" style="left:830.70px;top:274.48px;font-size:9.7px;line-height:13.58px;font-weight:400;color:#262626;letter-spacing:-0.120px;transform:scaleX(0.9481);transform-origin:0 50%;-webkit-text-stroke:0.22px #262626;"><i style="font-style:normal;margin-left:-1.04px;margin-right:-0.56px">1</i>27</span>
<span class="t" style="left:909.20px;top:274.48px;font-size:9.7px;line-height:13.58px;font-weight:400;color:#262626;letter-spacing:-0.097px;-webkit-text-stroke:0.22px #262626;">04 Feb 2024</span>
<div class="b" style="left:396.00px;top:297.00px;width:596.00px;height:1.00px;background:#f0f1f3;border-radius:0px;"></div>
<div class="b" style="left:410.70px;top:301.97px;width:25.20px;height:25.20px;background:#e4e8f5;border-radius:13px;"></div>
<span class="t" style="left:416.00px;top:307.92px;font-size:10.5px;line-height:14.7px;font-weight:400;color:#1f2f66;text-shadow:0 0 0.15px #1f2f66;">AA</span>
<span class="t" style="left:443.80px;top:303.47px;font-size:9.0px;line-height:12.6px;font-weight:400;color:#2b2b2b;letter-spacing:-0.120px;transform:scaleX(0.9778);transform-origin:0 50%;text-shadow:0 0 0.25px #2b2b2b;">ASIM AHMED</span>
<span class="t" style="left:443.80px;top:314.91px;font-size:8.8px;line-height:12.32px;font-weight:400;color:#8b8b8f;letter-spacing:-0.120px;transform:scaleX(0.9736);transform-origin:0 50%;">2466594278</span>
<div class="b" style="left:536.30px;top:306.68px;width:37.60px;height:15.50px;background:#dcf3e6;border-radius:2.5px;box-sizing:border-box;border:1px solid #b9e4cd;"></div>
<svg class="b" style="left:542.200px;top:310.22px" width="8.500" height="8.500" viewBox="0 0 8 8"><circle cx="4" cy="4" r="3.900" fill="#1f9d57"/><path d="M2.200 4.200 L3.500 5.500 L5.900 2.900" stroke="#fff" stroke-width="1" fill="none" stroke-linecap="round" stroke-linejoin="round"/></svg>
<span class="t" style="left:553.80px;top:309.55px;font-size:7.9px;line-height:11.06px;font-weight:400;color:#1f8d55;letter-spacing:-0.120px;transform:scaleX(0.8810);transform-origin:0 50%;-webkit-text-stroke:0.35px #1f8d55;">ELM</span>
<span class="t" style="left:605.50px;top:307.63px;font-size:9.7px;line-height:13.58px;font-weight:400;color:#262626;letter-spacing:-0.083px;-webkit-text-stroke:0.22px #262626;">Taxi</span>
<span class="t" style="left:686.70px;top:307.63px;font-size:9.7px;line-height:13.58px;font-weight:400;color:#262626;letter-spacing:-0.120px;transform:scaleX(0.8992);transform-origin:0 50%;-webkit-text-stroke:0.22px #262626;"><i style="font-style:normal;margin-left:-1.04px;margin-right:-0.56px">1</i> TON</span>
<span class="t" style="left:746.50px;top:307.63px;font-size:9.7px;line-height:13.58px;font-weight:400;color:#262626;letter-spacing:-0.120px;transform:scaleX(0.9990);transform-origin:0 50%;-webkit-text-stroke:0.22px #262626;"><i style="font-style:normal;margin-left:-1.04px;margin-right:-0.56px">1</i>2 Oct 2023</span>
<span class="t" style="left:830.70px;top:307.63px;font-size:9.7px;line-height:13.58px;font-weight:400;color:#262626;letter-spacing:-0.120px;transform:scaleX(0.9814);transform-origin:0 50%;-webkit-text-stroke:0.22px #262626;"><i style="font-style:normal;margin-left:-1.04px;margin-right:-0.56px">1</i><i style="font-style:normal;margin-left:-1.04px;margin-right:-0.56px">1</i>4</span>
<span class="t" style="left:909.00px;top:307.63px;font-size:9.7px;line-height:13.58px;font-weight:400;color:#262626;-webkit-text-stroke:0.22px #262626;letter-spacing:0.2px;transform:scaleX(1.35);transform-origin:0 50%;">--</span>
<div class="b" style="left:396.00px;top:330.15px;width:596.00px;height:1.00px;background:#f0f1f3;border-radius:0px;"></div>
<div class="b" style="left:410.70px;top:335.12px;width:25.20px;height:25.20px;background:#e4e8f5;border-radius:13px;"></div>
<span class="t" style="left:416.87px;top:341.07px;font-size:10.5px;line-height:14.7px;font-weight:400;color:#1f2f66;text-shadow:0 0 0.15px #1f2f66;">JS</span>
<span class="t" style="left:443.80px;top:336.62px;font-size:9.0px;line-height:12.6px;font-weight:400;color:#2b2b2b;letter-spacing:-0.120px;transform:scaleX(0.9654);transform-origin:0 50%;text-shadow:0 0 0.25px #2b2b2b;">JAVED SIRAJU</span>
<span class="t" style="left:443.80px;top:348.06px;font-size:8.8px;line-height:12.32px;font-weight:400;color:#8b8b8f;letter-spacing:-0.120px;transform:scaleX(0.9736);transform-origin:0 50%;">2466594278</span>
<div class="b" style="left:536.30px;top:339.82px;width:37.60px;height:15.50px;background:#efeff1;border-radius:2.5px;box-sizing:border-box;border:1px solid #d6d7db;"></div>
<svg class="b" style="left:542.200px;top:343.37px" width="8.500" height="8.500" viewBox="0 0 8 8"><circle cx="4" cy="4" r="3.900" fill="#75777d"/><path d="M2.700 2.700 L5.300 5.300 M5.300 2.700 L2.700 5.300" stroke="#fff" stroke-width="0.900" fill="none" stroke-linecap="round"/></svg>
<span class="t" style="left:553.80px;top:342.69px;font-size:7.9px;line-height:11.06px;font-weight:400;color:#85878c;letter-spacing:-0.120px;transform:scaleX(0.8810);transform-origin:0 50%;-webkit-text-stroke:0.35px #85878c;">ELM</span>
<span class="t" style="left:605.50px;top:340.78px;font-size:9.7px;line-height:13.58px;font-weight:400;color:#262626;letter-spacing:-0.120px;transform:scaleX(0.9771);transform-origin:0 50%;-webkit-text-stroke:0.22px #262626;">Private Tr</span>
<svg class="b" style="left:645.50px;top:349.82px" width="5.4" height="1.6" viewBox="0 0 5.4 1.6"><circle cx="0.8" cy="0.8" r="0.62" fill="#333"/><circle cx="2.6" cy="0.8" r="0.62" fill="#333"/><circle cx="4.4" cy="0.8" r="0.62" fill="#333"/></svg>
<span class="t" style="left:686.00px;top:340.78px;font-size:9.7px;line-height:13.58px;font-weight:400;color:#262626;letter-spacing:-0.120px;transform:scaleX(0.9555);transform-origin:0 50%;-webkit-text-stroke:0.22px #262626;">5 TON</span>
<span class="t" style="left:745.60px;top:340.78px;font-size:9.7px;line-height:13.58px;font-weight:400;color:#262626;-webkit-text-stroke:0.22px #262626;letter-spacing:0.2px;transform:scaleX(1.35);transform-origin:0 50%;">--</span>
<span class="t" style="left:830.70px;top:340.78px;font-size:9.7px;line-height:13.58px;font-weight:400;color:#262626;letter-spacing:-0.042px;-webkit-text-stroke:0.22px #262626;"><i style="font-style:normal;margin-left:-1.04px;margin-right:-0.56px">1</i>08</span>
<span class="t" style="left:909.00px;top:340.78px;font-size:9.7px;line-height:13.58px;font-weight:400;color:#262626;-webkit-text-stroke:0.22px #262626;letter-spacing:0.2px;transform:scaleX(1.35);transform-origin:0 50%;">--</span>
<div class="b" style="left:396.00px;top:363.30px;width:596.00px;height:1.00px;background:#f0f1f3;border-radius:0px;"></div>
<div class="b" style="left:410.70px;top:368.27px;width:25.20px;height:25.20px;background:#e4e8f5;border-radius:13px;"></div>
<span class="t" style="left:416.00px;top:374.22px;font-size:10.5px;line-height:14.7px;font-weight:400;color:#1f2f66;text-shadow:0 0 0.15px #1f2f66;">AK</span>
<span class="t" style="left:443.80px;top:369.77px;font-size:9.0px;line-height:12.6px;font-weight:400;color:#2b2b2b;letter-spacing:-0.120px;transform:scaleX(0.9642);transform-origin:0 50%;text-shadow:0 0 0.25px #2b2b2b;">AFJAL KHAN</span>
<span class="t" style="left:443.80px;top:381.21px;font-size:8.8px;line-height:12.32px;font-weight:400;color:#8b8b8f;letter-spacing:-0.120px;transform:scaleX(0.9736);transform-origin:0 50%;">2466594278</span>
<div class="b" style="left:536.30px;top:372.98px;width:37.60px;height:15.50px;background:#dcf3e6;border-radius:2.5px;box-sizing:border-box;border:1px solid #b9e4cd;"></div>
<svg class="b" style="left:542.200px;top:376.52px" width="8.500" height="8.500" viewBox="0 0 8 8"><circle cx="4" cy="4" r="3.900" fill="#1f9d57"/><path d="M2.200 4.200 L3.500 5.500 L5.900 2.900" stroke="#fff" stroke-width="1" fill="none" stroke-linecap="round" stroke-linejoin="round"/></svg>
<span class="t" style="left:553.80px;top:375.85px;font-size:7.9px;line-height:11.06px;font-weight:400;color:#1f8d55;letter-spacing:-0.120px;transform:scaleX(0.8810);transform-origin:0 50%;-webkit-text-stroke:0.35px #1f8d55;">ELM</span>
<span class="t" style="left:605.50px;top:373.93px;font-size:9.7px;line-height:13.58px;font-weight:400;color:#262626;letter-spacing:-0.120px;transform:scaleX(0.9771);transform-origin:0 50%;-webkit-text-stroke:0.22px #262626;">Private Tr</span>
<svg class="b" style="left:645.50px;top:382.98px" width="5.4" height="1.6" viewBox="0 0 5.4 1.6"><circle cx="0.8" cy="0.8" r="0.62" fill="#333"/><circle cx="2.6" cy="0.8" r="0.62" fill="#333"/><circle cx="4.4" cy="0.8" r="0.62" fill="#333"/></svg>
<span class="t" style="left:686.00px;top:373.93px;font-size:9.7px;line-height:13.58px;font-weight:400;color:#262626;letter-spacing:-0.120px;transform:scaleX(0.9555);transform-origin:0 50%;-webkit-text-stroke:0.22px #262626;">5 TON</span>
<span class="t" style="left:745.60px;top:373.93px;font-size:9.7px;line-height:13.58px;font-weight:400;color:#262626;-webkit-text-stroke:0.22px #262626;letter-spacing:0.2px;transform:scaleX(1.35);transform-origin:0 50%;">--</span>
<span class="t" style="left:830.70px;top:373.93px;font-size:9.7px;line-height:13.58px;font-weight:400;color:#262626;letter-spacing:-0.120px;transform:scaleX(0.9900);transform-origin:0 50%;-webkit-text-stroke:0.22px #262626;"><i style="font-style:normal;margin-left:-1.04px;margin-right:-0.56px">1</i>03</span>
<span class="t" style="left:909.00px;top:373.93px;font-size:9.7px;line-height:13.58px;font-weight:400;color:#262626;-webkit-text-stroke:0.22px #262626;letter-spacing:0.2px;transform:scaleX(1.35);transform-origin:0 50%;">--</span>
<div class="b" style="left:396.00px;top:396.45px;width:596.00px;height:1.00px;background:#f0f1f3;border-radius:0px;"></div>
<div class="b" style="left:410.70px;top:401.42px;width:25.20px;height:25.20px;background:#e4e8f5;border-radius:13px;"></div>
<span class="t" style="left:415.12px;top:407.37px;font-size:10.5px;line-height:14.7px;font-weight:400;color:#1f2f66;text-shadow:0 0 0.15px #1f2f66;">YM</span>
<span class="t" style="left:443.80px;top:402.92px;font-size:9.0px;line-height:12.6px;font-weight:400;color:#2b2b2b;letter-spacing:-0.120px;transform:scaleX(0.9733);transform-origin:0 50%;text-shadow:0 0 0.25px #2b2b2b;">YAS MAGAR</span>
<span class="t" style="left:443.80px;top:414.36px;font-size:8.8px;line-height:12.32px;font-weight:400;color:#8b8b8f;letter-spacing:-0.120px;transform:scaleX(0.9736);transform-origin:0 50%;">2466594278</span>
<div class="b" style="left:536.30px;top:406.12px;width:37.60px;height:15.50px;background:#dcf3e6;border-radius:2.5px;box-sizing:border-box;border:1px solid #b9e4cd;"></div>
<svg class="b" style="left:542.200px;top:409.67px" width="8.500" height="8.500" viewBox="0 0 8 8"><circle cx="4" cy="4" r="3.900" fill="#1f9d57"/><path d="M2.200 4.200 L3.500 5.500 L5.900 2.900" stroke="#fff" stroke-width="1" fill="none" stroke-linecap="round" stroke-linejoin="round"/></svg>
<span class="t" style="left:553.80px;top:409.00px;font-size:7.9px;line-height:11.06px;font-weight:400;color:#1f8d55;letter-spacing:-0.120px;transform:scaleX(0.8810);transform-origin:0 50%;-webkit-text-stroke:0.35px #1f8d55;">ELM</span>
<span class="t" style="left:605.50px;top:407.08px;font-size:9.7px;line-height:13.58px;font-weight:400;color:#262626;letter-spacing:-0.083px;-webkit-text-stroke:0.22px #262626;">Taxi</span>
<span class="t" style="left:686.70px;top:407.08px;font-size:9.7px;line-height:13.58px;font-weight:400;color:#262626;letter-spacing:-0.120px;transform:scaleX(0.9456);transform-origin:0 50%;-webkit-text-stroke:0.22px #262626;"><i style="font-style:normal;margin-left:-1.04px;margin-right:-0.56px">1</i>0 TON</span>
<span class="t" style="left:745.60px;top:407.08px;font-size:9.7px;line-height:13.58px;font-weight:400;color:#262626;-webkit-text-stroke:0.22px #262626;letter-spacing:0.2px;transform:scaleX(1.35);transform-origin:0 50%;">--</span>
<span class="t" style="left:830.70px;top:407.08px;font-size:9.7px;line-height:13.58px;font-weight:400;color:#262626;letter-spacing:-0.120px;transform:scaleX(0.9103);transform-origin:0 50%;-webkit-text-stroke:0.22px #262626;"><i style="font-style:normal;margin-left:-1.04px;margin-right:-0.56px">1</i>0<i style="font-style:normal;margin-left:-1.04px;margin-right:-0.56px">1</i></span>
<span class="t" style="left:909.00px;top:407.08px;font-size:9.7px;line-height:13.58px;font-weight:400;color:#262626;-webkit-text-stroke:0.22px #262626;letter-spacing:0.2px;transform:scaleX(1.35);transform-origin:0 50%;">--</span>
<div class="b" style="left:396.00px;top:429.60px;width:596.00px;height:1.00px;background:#f0f1f3;border-radius:0px;"></div>
<div class="b" style="left:410.70px;top:434.57px;width:25.20px;height:25.20px;background:#e4e8f5;border-radius:13px;"></div>
<span class="t" style="left:416.87px;top:440.52px;font-size:10.5px;line-height:14.7px;font-weight:400;color:#1f2f66;text-shadow:0 0 0.15px #1f2f66;">AJ</span>
<svg class="b" style="left:429.300px;top:452.27px" width="8.300" height="10" viewBox="0 0 7.400 9.600" preserveAspectRatio="none"><rect x="0.400" y="0.400" width="6.600" height="8.800" rx="1.500" fill="#1f9d57" stroke="#fff" stroke-width="0.800"/><rect x="2.300" y="1.800" width="2.800" height="1" fill="#d9f3e4"/><circle cx="3.700" cy="7" r="0.700" fill="#d9f3e4"/></svg>
<span class="t" style="left:443.80px;top:436.07px;font-size:9.0px;line-height:12.6px;font-weight:400;color:#2b2b2b;letter-spacing:-0.120px;transform:scaleX(0.9706);transform-origin:0 50%;text-shadow:0 0 0.25px #2b2b2b;">AFTAB JAN</span>
<span class="t" style="left:443.80px;top:447.51px;font-size:8.8px;line-height:12.32px;font-weight:400;color:#8b8b8f;letter-spacing:-0.120px;transform:scaleX(0.9736);transform-origin:0 50%;">2466594278</span>
<div class="b" style="left:536.30px;top:439.27px;width:37.60px;height:15.50px;background:#dcf3e6;border-radius:2.5px;box-sizing:border-box;border:1px solid #b9e4cd;"></div>
<svg class="b" style="left:542.200px;top:442.82px" width="8.500" height="8.500" viewBox="0 0 8 8"><circle cx="4" cy="4" r="3.900" fill="#1f9d57"/><path d="M2.200 4.200 L3.500 5.500 L5.900 2.900" stroke="#fff" stroke-width="1" fill="none" stroke-linecap="round" stroke-linejoin="round"/></svg>
<span class="t" style="left:553.80px;top:442.14px;font-size:7.9px;line-height:11.06px;font-weight:400;color:#1f8d55;letter-spacing:-0.120px;transform:scaleX(0.8810);transform-origin:0 50%;-webkit-text-stroke:0.35px #1f8d55;">ELM</span>
<span class="t" style="left:605.50px;top:440.23px;font-size:9.7px;line-height:13.58px;font-weight:400;color:#262626;letter-spacing:-0.120px;transform:scaleX(0.9341);transform-origin:0 50%;-webkit-text-stroke:0.22px #262626;">Heavy Eq</span>
<svg class="b" style="left:644.50px;top:449.27px" width="5.4" height="1.6" viewBox="0 0 5.4 1.6"><circle cx="0.8" cy="0.8" r="0.62" fill="#333"/><circle cx="2.6" cy="0.8" r="0.62" fill="#333"/><circle cx="4.4" cy="0.8" r="0.62" fill="#333"/></svg>
<span class="t" style="left:686.70px;top:440.23px;font-size:9.7px;line-height:13.58px;font-weight:400;color:#262626;letter-spacing:-0.120px;transform:scaleX(0.9456);transform-origin:0 50%;-webkit-text-stroke:0.22px #262626;"><i style="font-style:normal;margin-left:-1.04px;margin-right:-0.56px">1</i>0 TON</span>
<span class="t" style="left:746.50px;top:440.23px;font-size:9.7px;line-height:13.58px;font-weight:400;color:#262626;letter-spacing:-0.120px;transform:scaleX(0.9990);transform-origin:0 50%;-webkit-text-stroke:0.22px #262626;"><i style="font-style:normal;margin-left:-1.04px;margin-right:-0.56px">1</i>2 Oct 2023</span>
<span class="t" style="left:830.00px;top:440.23px;font-size:9.7px;line-height:13.58px;font-weight:400;color:#262626;letter-spacing:0.210px;-webkit-text-stroke:0.22px #262626;">95</span>
<span class="t" style="left:909.20px;top:440.23px;font-size:9.7px;line-height:13.58px;font-weight:400;color:#262626;letter-spacing:-0.097px;-webkit-text-stroke:0.22px #262626;">04 Feb 2024</span>
<div class="b" style="left:396.00px;top:462.75px;width:596.00px;height:1.00px;background:#f0f1f3;border-radius:0px;"></div>
<div class="b" style="left:410.70px;top:467.72px;width:25.20px;height:25.20px;background:#e4e8f5;border-radius:13px;"></div>
<span class="t" style="left:416.87px;top:473.67px;font-size:10.5px;line-height:14.7px;font-weight:400;color:#1f2f66;text-shadow:0 0 0.15px #1f2f66;">JB</span>
<svg class="b" style="left:429.300px;top:485.43px" width="8.300" height="10" viewBox="0 0 7.400 9.600" preserveAspectRatio="none"><rect x="0.400" y="0.400" width="6.600" height="8.800" rx="1.500" fill="#1f9d57" stroke="#fff" stroke-width="0.800"/><rect x="2.300" y="1.800" width="2.800" height="1" fill="#d9f3e4"/><circle cx="3.700" cy="7" r="0.700" fill="#d9f3e4"/></svg>
<span class="t" style="left:443.80px;top:469.22px;font-size:9.0px;line-height:12.6px;font-weight:400;color:#2b2b2b;letter-spacing:-0.120px;transform:scaleX(0.9361);transform-origin:0 50%;text-shadow:0 0 0.25px #2b2b2b;">JEHANZEB BAZ</span>
<span class="t" style="left:443.80px;top:480.66px;font-size:8.8px;line-height:12.32px;font-weight:400;color:#8b8b8f;letter-spacing:-0.120px;transform:scaleX(0.9736);transform-origin:0 50%;">2466594278</span>
<div class="b" style="left:536.30px;top:472.43px;width:37.60px;height:15.50px;background:#dcf3e6;border-radius:2.5px;box-sizing:border-box;border:1px solid #b9e4cd;"></div>
<svg class="b" style="left:542.200px;top:475.97px" width="8.500" height="8.500" viewBox="0 0 8 8"><circle cx="4" cy="4" r="3.900" fill="#1f9d57"/><path d="M2.200 4.200 L3.500 5.500 L5.900 2.900" stroke="#fff" stroke-width="1" fill="none" stroke-linecap="round" stroke-linejoin="round"/></svg>
<span class="t" style="left:553.80px;top:475.30px;font-size:7.9px;line-height:11.06px;font-weight:400;color:#1f8d55;letter-spacing:-0.120px;transform:scaleX(0.8810);transform-origin:0 50%;-webkit-text-stroke:0.35px #1f8d55;">ELM</span>
<span class="t" style="left:605.50px;top:473.38px;font-size:9.7px;line-height:13.58px;font-weight:400;color:#262626;letter-spacing:-0.120px;transform:scaleX(0.9341);transform-origin:0 50%;-webkit-text-stroke:0.22px #262626;">Heavy Eq</span>
<svg class="b" style="left:644.50px;top:482.43px" width="5.4" height="1.6" viewBox="0 0 5.4 1.6"><circle cx="0.8" cy="0.8" r="0.62" fill="#333"/><circle cx="2.6" cy="0.8" r="0.62" fill="#333"/><circle cx="4.4" cy="0.8" r="0.62" fill="#333"/></svg>
<span class="t" style="left:686.00px;top:473.38px;font-size:9.7px;line-height:13.58px;font-weight:400;color:#262626;letter-spacing:-0.120px;transform:scaleX(0.9555);transform-origin:0 50%;-webkit-text-stroke:0.22px #262626;">5 TON</span>
<span class="t" style="left:746.50px;top:473.38px;font-size:9.7px;line-height:13.58px;font-weight:400;color:#262626;letter-spacing:-0.120px;transform:scaleX(0.9990);transform-origin:0 50%;-webkit-text-stroke:0.22px #262626;"><i style="font-style:normal;margin-left:-1.04px;margin-right:-0.56px">1</i>2 Oct 2023</span>
<span class="t" style="left:830.00px;top:473.38px;font-size:9.7px;line-height:13.58px;font-weight:400;color:#262626;letter-spacing:0.210px;-webkit-text-stroke:0.22px #262626;">93</span>
<span class="t" style="left:909.20px;top:473.38px;font-size:9.7px;line-height:13.58px;font-weight:400;color:#262626;letter-spacing:-0.097px;-webkit-text-stroke:0.22px #262626;">04 Feb 2024</span>
<div class="b" style="left:396.00px;top:495.90px;width:596.00px;height:1.00px;background:#f0f1f3;border-radius:0px;"></div>
<div class="b" style="left:410.70px;top:500.87px;width:25.20px;height:25.20px;background:#e4e8f5;border-radius:13px;"></div>
<span class="t" style="left:416.00px;top:506.82px;font-size:10.5px;line-height:14.7px;font-weight:400;color:#1f2f66;text-shadow:0 0 0.15px #1f2f66;">AA</span>
<span class="t" style="left:443.80px;top:502.37px;font-size:9.0px;line-height:12.6px;font-weight:400;color:#2b2b2b;letter-spacing:-0.120px;transform:scaleX(0.9778);transform-origin:0 50%;text-shadow:0 0 0.25px #2b2b2b;">ASIM AHMED</span>
<span class="t" style="left:443.80px;top:513.81px;font-size:8.8px;line-height:12.32px;font-weight:400;color:#8b8b8f;letter-spacing:-0.120px;transform:scaleX(0.9736);transform-origin:0 50%;">2466594278</span>
<div class="b" style="left:536.30px;top:505.57px;width:37.60px;height:15.50px;background:#dcf3e6;border-radius:2.5px;box-sizing:border-box;border:1px solid #b9e4cd;"></div>
<svg class="b" style="left:542.200px;top:509.12px" width="8.500" height="8.500" viewBox="0 0 8 8"><circle cx="4" cy="4" r="3.900" fill="#1f9d57"/><path d="M2.200 4.200 L3.500 5.500 L5.900 2.900" stroke="#fff" stroke-width="1" fill="none" stroke-linecap="round" stroke-linejoin="round"/></svg>
<span class="t" style="left:553.80px;top:508.44px;font-size:7.9px;line-height:11.06px;font-weight:400;color:#1f8d55;letter-spacing:-0.120px;transform:scaleX(0.8810);transform-origin:0 50%;-webkit-text-stroke:0.35px #1f8d55;">ELM</span>
<span class="t" style="left:605.50px;top:506.53px;font-size:9.7px;line-height:13.58px;font-weight:400;color:#262626;letter-spacing:-0.120px;transform:scaleX(0.9771);transform-origin:0 50%;-webkit-text-stroke:0.22px #262626;">Private Tr</span>
<svg class="b" style="left:645.50px;top:515.57px" width="5.4" height="1.6" viewBox="0 0 5.4 1.6"><circle cx="0.8" cy="0.8" r="0.62" fill="#333"/><circle cx="2.6" cy="0.8" r="0.62" fill="#333"/><circle cx="4.4" cy="0.8" r="0.62" fill="#333"/></svg>
<span class="t" style="left:686.00px;top:506.53px;font-size:9.7px;line-height:13.58px;font-weight:400;color:#262626;letter-spacing:-0.120px;transform:scaleX(0.9555);transform-origin:0 50%;-webkit-text-stroke:0.22px #262626;">5 TON</span>
<span class="t" style="left:745.60px;top:506.53px;font-size:9.7px;line-height:13.58px;font-weight:400;color:#262626;-webkit-text-stroke:0.22px #262626;letter-spacing:0.2px;transform:scaleX(1.35);transform-origin:0 50%;">--</span>
<span class="t" style="left:830.00px;top:506.53px;font-size:9.7px;line-height:13.58px;font-weight:400;color:#262626;letter-spacing:0.610px;-webkit-text-stroke:0.22px #262626;">88</span>
<span class="t" style="left:909.00px;top:506.53px;font-size:9.7px;line-height:13.58px;font-weight:400;color:#262626;-webkit-text-stroke:0.22px #262626;letter-spacing:0.2px;transform:scaleX(1.35);transform-origin:0 50%;">--</span>
<div class="b" style="left:396.00px;top:529.05px;width:596.00px;height:1.00px;background:#f0f1f3;border-radius:0px;"></div>
<div class="b" style="left:410.70px;top:534.02px;width:25.20px;height:25.20px;background:#e4e8f5;border-radius:13px;"></div>
<span class="t" style="left:418.04px;top:539.98px;font-size:10.5px;line-height:14.7px;font-weight:400;color:#1f2f66;text-shadow:0 0 0.15px #1f2f66;">IS</span>
<span class="t" style="left:443.80px;top:535.53px;font-size:9.0px;line-height:12.6px;font-weight:400;color:#2b2b2b;letter-spacing:-0.120px;transform:scaleX(0.9613);transform-origin:0 50%;text-shadow:0 0 0.25px #2b2b2b;">IHSAN SANAD</span>
<span class="t" style="left:443.80px;top:546.97px;font-size:8.8px;line-height:12.32px;font-weight:400;color:#8b8b8f;letter-spacing:-0.120px;transform:scaleX(0.9736);transform-origin:0 50%;">2466594278</span>
<div class="b" style="left:536.30px;top:538.73px;width:37.60px;height:15.50px;background:#dcf3e6;border-radius:2.5px;box-sizing:border-box;border:1px solid #b9e4cd;"></div>
<svg class="b" style="left:542.200px;top:542.27px" width="8.500" height="8.500" viewBox="0 0 8 8"><circle cx="4" cy="4" r="3.900" fill="#1f9d57"/><path d="M2.200 4.200 L3.500 5.500 L5.900 2.900" stroke="#fff" stroke-width="1" fill="none" stroke-linecap="round" stroke-linejoin="round"/></svg>
<span class="t" style="left:553.80px;top:541.60px;font-size:7.9px;line-height:11.06px;font-weight:400;color:#1f8d55;letter-spacing:-0.120px;transform:scaleX(0.8810);transform-origin:0 50%;-webkit-text-stroke:0.35px #1f8d55;">ELM</span>
<span class="t" style="left:605.50px;top:539.69px;font-size:9.7px;line-height:13.58px;font-weight:400;color:#262626;letter-spacing:-0.120px;transform:scaleX(0.9341);transform-origin:0 50%;-webkit-text-stroke:0.22px #262626;">Heavy Eq</span>
<svg class="b" style="left:644.50px;top:548.73px" width="5.4" height="1.6" viewBox="0 0 5.4 1.6"><circle cx="0.8" cy="0.8" r="0.62" fill="#333"/><circle cx="2.6" cy="0.8" r="0.62" fill="#333"/><circle cx="4.4" cy="0.8" r="0.62" fill="#333"/></svg>
<span class="t" style="left:686.00px;top:539.69px;font-size:9.7px;line-height:13.58px;font-weight:400;color:#262626;letter-spacing:-0.120px;transform:scaleX(0.9555);transform-origin:0 50%;-webkit-text-stroke:0.22px #262626;">5 TON</span>
<span class="t" style="left:746.50px;top:539.69px;font-size:9.7px;line-height:13.58px;font-weight:400;color:#262626;letter-spacing:-0.120px;transform:scaleX(0.9990);transform-origin:0 50%;-webkit-text-stroke:0.22px #262626;"><i style="font-style:normal;margin-left:-1.04px;margin-right:-0.56px">1</i>2 Oct 2023</span>
<span class="t" style="left:830.00px;top:539.69px;font-size:9.7px;line-height:13.58px;font-weight:400;color:#262626;letter-spacing:-0.120px;transform:scaleX(0.9747);transform-origin:0 50%;-webkit-text-stroke:0.22px #262626;">76</span>
<span class="t" style="left:909.00px;top:539.69px;font-size:9.7px;line-height:13.58px;font-weight:400;color:#262626;-webkit-text-stroke:0.22px #262626;letter-spacing:0.2px;transform:scaleX(1.35);transform-origin:0 50%;">--</span>
</div>
</body></html>
